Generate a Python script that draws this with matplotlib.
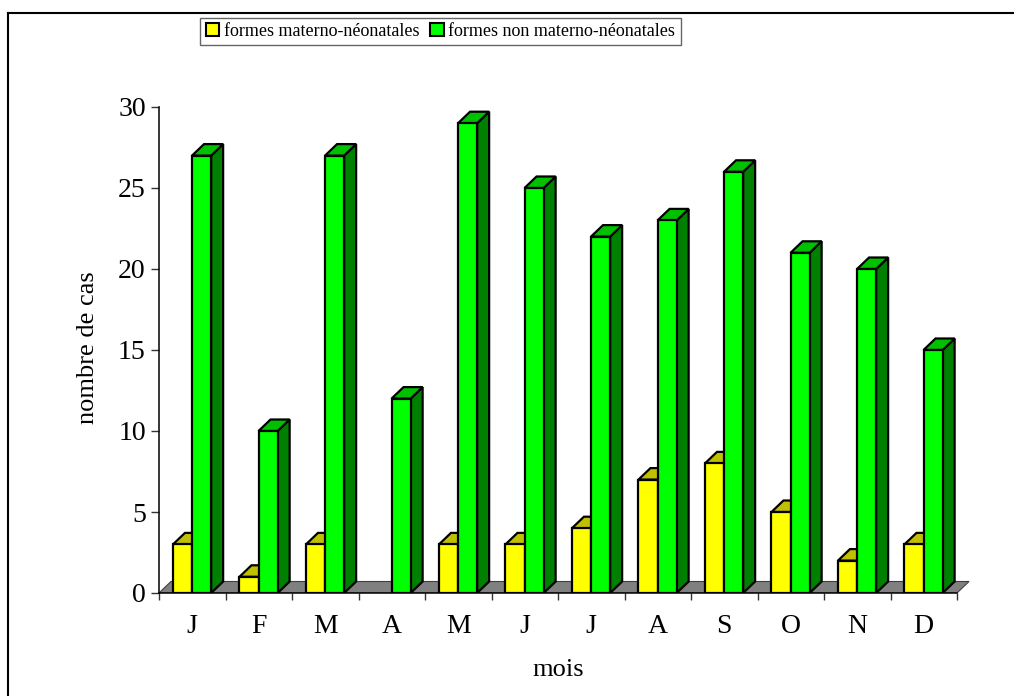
import matplotlib
matplotlib.use("Agg")
import matplotlib.pyplot as plt
from matplotlib.patches import Polygon, Patch
from matplotlib.lines import Line2D

plt.rcParams['font.family'] = ['Liberation Serif', 'DejaVu Serif']

# Monthly case counts
months = ['J', 'F', 'M', 'A', 'M', 'J', 'J', 'A', 'S', 'O', 'N', 'D']
materno = [3, 1, 3, 0, 3, 3, 4, 7, 8, 5, 2, 3]
non_materno = [27, 10, 27, 12, 29, 25, 22, 23, 26, 21, 20, 15]
series_labels = ['formes materno-néonatales', 'formes non materno-néonatales']
y_ticks = [0, 5, 10, 15, 20, 25, 30]

W, H = 1014, 696
fig = plt.figure(figsize=(W / 100, H / 100), dpi=100)

# plot area geometry (pixels)
x0_px, y0_px = 159, 593
cat_px = 66.5
unit_px = 16.2
ax_right_px, ax_top_px = 1000, 90
ax = fig.add_axes([x0_px / W, 1 - y0_px / H,
                   (ax_right_px - x0_px) / W, (y0_px - ax_top_px) / H])
ax.set_xlim(0, (ax_right_px - x0_px) / cat_px)
ax.set_ylim(0, (y0_px - ax_top_px) / unit_px)
ax.patch.set_alpha(0)

# 3D depth offsets in data units
dx = 12 / cat_px
dy = 11.5 / unit_px
bar_w = 0.287
lw = 1.6

def box(x, w, h, front, top, side, z):
    if h <= 0:
        return
    ax.add_patch(Polygon([(x + w, 0), (x + w + dx, dy), (x + w + dx, h + dy), (x + w, h)],
                         closed=True, facecolor=side, edgecolor='black', lw=lw, zorder=z, joinstyle='miter'))
    ax.add_patch(Polygon([(x, h), (x + w, h), (x + w + dx, h + dy), (x + dx, h + dy)],
                         closed=True, facecolor=top, edgecolor='black', lw=lw, zorder=z, joinstyle='miter'))
    ax.add_patch(Polygon([(x, 0), (x + w, 0), (x + w, h), (x, h)],
                         closed=True, facecolor=front, edgecolor='black', lw=lw, zorder=z, joinstyle='miter'))

n = len(months)
# floor
ax.add_patch(Polygon([(0, 0), (n, 0), (n + dx, dy), (dx, dy)], closed=True,
                     facecolor='#808080', edgecolor='#404040', lw=0.8, zorder=1))

z = 2
for i in range(n):
    xa = i + 0.21
    box(xa, bar_w, materno[i], '#FFFF00', '#C0C000', '#808000', z)
    z += 1
    box(xa + bar_w, bar_w, non_materno[i], '#00FF00', '#00C000', '#008000', z)
    z += 1

# axes styling
for s in ['top', 'right']:
    ax.spines[s].set_visible(False)
ax.spines['left'].set_bounds(0, 30)
ax.spines['bottom'].set_bounds(0, n)
ax.spines['left'].set_linewidth(1.1)
ax.spines['bottom'].set_linewidth(1.1)
ax.spines['left'].set_zorder(100)
ax.spines['bottom'].set_zorder(100)

ax.set_yticks(y_ticks)
ax.set_yticklabels([str(v) for v in y_ticks], fontsize=20)
ax.tick_params(axis='y', length=6, width=1.0, pad=3.5, color='#333333')

ax.set_xticks(range(n + 1))
ax.set_xticklabels([])
ax.set_xticks([i + 0.5 for i in range(n)], minor=True)
ax.set_xticklabels(months, minor=True, fontsize=20)
ax.tick_params(axis='x', which='major', length=5, width=1.0, color='#333333')
ax.tick_params(axis='x', which='minor', length=0, pad=15)

fig.text(88 / W, 1 - 348 / H, 'nombre de cas', rotation=90, ha='center', va='center', fontsize=19)
fig.text(558 / W, 1 - 670 / H, 'mois', ha='center', va='center', fontsize=19)

# legend
handles = [Patch(facecolor='#FFFF00', edgecolor='black', lw=1.5),
           Patch(facecolor='#00FF00', edgecolor='black', lw=1.5)]
leg = fig.legend(handles, series_labels, loc='center', ncol=2,
                 bbox_to_anchor=(440.5 / W, 1 - 31.5 / H), fontsize=13,
                 frameon=True, fancybox=False, edgecolor='#404040',
                 handlelength=0.75, handleheight=0.75, handletextpad=0.25,
                 columnspacing=0.6, borderpad=0.3, borderaxespad=0)
leg.get_frame().set_linewidth(1.0)

# outer frame (top and left edges)
fig.add_artist(Line2D([8 / W, 1.0], [1 - 13 / H, 1 - 13 / H], color='black', lw=1.5))
fig.add_artist(Line2D([8 / W, 8 / W], [0.0, 1 - 13 / H], color='black', lw=1.5))

fig.savefig('out.png', dpi=100)
